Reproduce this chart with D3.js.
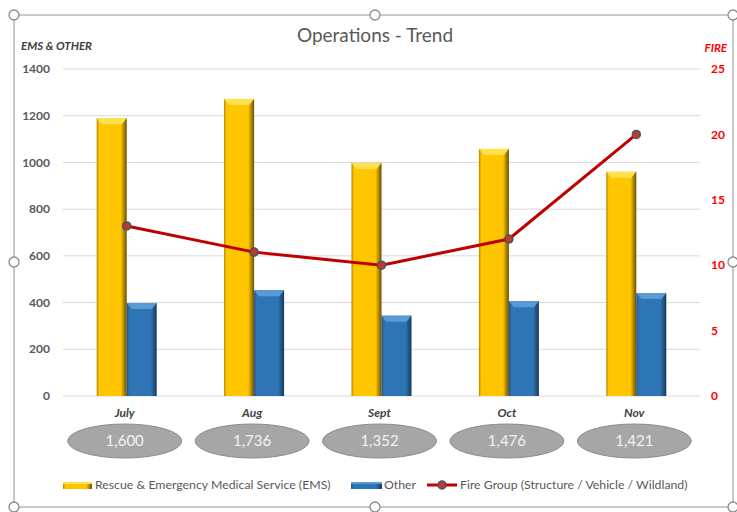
<!DOCTYPE html>
<html>
<head>
<meta charset="utf-8">
<script src="https://cdn.jsdelivr.net/npm/d3@7"></script>
<style>
  body { margin: 0; background: #fff; }
  text { font-family: Lato, "Open Sans", sans-serif; }
</style>
</head>
<body>
<div id="chart"></div>
<script>
// chart data
var months = ["July", "Aug", "Sept", "Oct", "Nov"];
var emsCalls = [1189, 1272, 998, 1058, 960];
var otherCalls = [398, 453, 344, 406, 441];
var fireCalls = [13, 11, 10, 12, 20];
var totals = [1600, 1736, 1352, 1476, 1421];
var leftTicks = [0, 200, 400, 600, 800, 1000, 1200, 1400];
var rightTicks = [0, 5, 10, 15, 20, 25];

var width = 737, height = 512;
var plotLeft = 63, plotRight = 700, plotTop = 69, plotBottom = 396;

var svg = d3.select("#chart").append("svg")
  .attr("width", width)
  .attr("height", height);

var defs = svg.append("defs");

function barGradient(id, dark, mid, light) {
  var g = defs.append("linearGradient").attr("id", id)
    .attr("x1", "0%").attr("x2", "100%").attr("y1", "0%").attr("y2", "0%");
  g.append("stop").attr("offset", "0%").attr("stop-color", dark);
  g.append("stop").attr("offset", "8%").attr("stop-color", mid);
  g.append("stop").attr("offset", "80%").attr("stop-color", mid);
  g.append("stop").attr("offset", "100%").attr("stop-color", light);
}
barGradient("gEms", "#b08400", "#ffc600", "#6b5000");
barGradient("gOther", "#1f4e79", "#2e75b6", "#16395a");

// selection frame
svg.append("rect")
  .attr("x", 14).attr("y", 15).attr("width", 719).attr("height", 492)
  .attr("fill", "none").attr("stroke", "#a6a6a6").attr("stroke-width", 1.2);

var x = d3.scaleBand().domain(months).range([plotLeft, plotRight]);
var xs = d3.scaleBand().domain(["ems", "other"]).range([-30, 30]);
var y = d3.scaleLinear().domain([0, 1400]).range([plotBottom, plotTop]);
var y2 = d3.scaleLinear().domain([0, 25]).range([plotBottom, plotTop]);

function cx(m) { return x(m) + x.bandwidth() / 2; }

// gridlines
svg.append("g").selectAll("line")
  .data(leftTicks).enter().append("line")
  .attr("x1", plotLeft).attr("x2", plotRight)
  .attr("y1", function(d) { return y(d); })
  .attr("y2", function(d) { return y(d); })
  .attr("stroke", "#d9d9d9").attr("stroke-width", 1);

// left axis labels
svg.append("g").selectAll("text")
  .data(leftTicks).enter().append("text")
  .attr("x", 50).attr("y", function(d) { return y(d); })
  .attr("dy", "0.35em").attr("text-anchor", "end")
  .attr("font-size", 12).attr("font-weight", "bold").attr("fill", "#595959")
  .text(function(d) { return d; });

// right axis labels
svg.append("g").selectAll("text")
  .data(rightTicks).enter().append("text")
  .attr("x", 711).attr("y", function(d) { return y2(d); })
  .attr("dy", "0.35em").attr("text-anchor", "start")
  .attr("font-size", 12).attr("font-weight", "bold").attr("fill", "#ff0000")
  .text(function(d) { return d; });

// titles
svg.append("text").attr("x", 375).attr("y", 42).attr("text-anchor", "middle")
  .attr("font-size", 19).attr("fill", "#595959").text("Operations - Trend");
svg.append("text").attr("x", 21).attr("y", 50)
  .attr("font-size", 11.5).attr("font-weight", "bold").attr("font-style", "italic")
  .attr("fill", "#404040").text("EMS & OTHER");
svg.append("text").attr("x", 727).attr("y", 52).attr("text-anchor", "end")
  .attr("font-size", 11.5).attr("font-weight", "bold").attr("font-style", "italic")
  .attr("fill", "#ff0000").text("FIRE");

// bars with a bevelled top
function drawBars(cls, values, key, grad, topColor) {
  var g = svg.append("g").attr("class", cls);
  var bw = xs.bandwidth();
  g.selectAll("rect")
    .data(values).enter().append("rect")
    .attr("x", function(d, i) { return cx(months[i]) + xs(key); })
    .attr("y", function(d) { return y(d); })
    .attr("width", bw)
    .attr("height", function(d) { return plotBottom - y(d); })
    .attr("fill", "url(#" + grad + ")");
  g.selectAll("path")
    .data(values).enter().append("path")
    .attr("d", function(d, i) {
      var x0 = cx(months[i]) + xs(key), y0 = y(d);
      return "M" + x0 + "," + y0 + "L" + (x0 + bw) + "," + y0 +
        "L" + (x0 + bw - 5) + "," + (y0 + 6) + "L" + (x0 + 5) + "," + (y0 + 6) + "Z";
    })
    .attr("fill", topColor);
}
drawBars("ems", emsCalls, "ems", "gEms", "#ffe14d");
drawBars("other", otherCalls, "other", "gOther", "#5b9bd5");

// fire line
var line = d3.line()
  .x(function(d, i) { return cx(months[i]); })
  .y(function(d) { return y2(d); });

svg.append("path").datum(fireCalls)
  .attr("d", line).attr("fill", "none")
  .attr("stroke", "#c00000").attr("stroke-width", 3);

svg.append("g").selectAll("circle")
  .data(fireCalls).enter().append("circle")
  .attr("cx", function(d, i) { return cx(months[i]); })
  .attr("cy", function(d) { return y2(d); })
  .attr("r", 4)
  .attr("fill", "#c0392b").attr("stroke", "#44546a").attr("stroke-width", 1.5);

// category labels
svg.append("g").selectAll("text")
  .data(months).enter().append("text")
  .attr("x", function(d) { return cx(d) - 2; }).attr("y", 413)
  .attr("dy", "0.35em").attr("text-anchor", "middle")
  .attr("font-size", 12).attr("font-weight", "bold").attr("font-style", "italic")
  .attr("fill", "#404040").text(function(d) { return d; });

// total ovals
var ovals = svg.append("g").selectAll("g")
  .data(totals).enter().append("g")
  .attr("transform", function(d, i) { return "translate(" + (cx(months[i]) - 2) + ",441)"; });
ovals.append("ellipse").attr("rx", 57).attr("ry", 17)
  .attr("fill", "#a6a6a6").attr("stroke", "#8c8c8c").attr("stroke-width", 1);
ovals.append("text").attr("dy", "0.35em").attr("text-anchor", "middle")
  .attr("font-size", 15).attr("fill", "#f2f2f2")
  .text(function(d) { return d3.format(",")(d); });

// legend
var lg = svg.append("g").attr("font-size", 12.3).attr("fill", "#595959");
lg.append("rect").attr("x", 63).attr("y", 482).attr("width", 29).attr("height", 7).attr("fill", "url(#gEms)");
lg.append("rect").attr("x", 63).attr("y", 482).attr("width", 29).attr("height", 2).attr("fill", "#ffe14d");
lg.append("text").attr("x", 95).attr("y", 485).attr("dy", "0.35em").text("Rescue & Emergency Medical Service (EMS)");
lg.append("rect").attr("x", 351).attr("y", 482).attr("width", 31).attr("height", 7).attr("fill", "url(#gOther)");
lg.append("rect").attr("x", 351).attr("y", 482).attr("width", 31).attr("height", 2).attr("fill", "#5b9bd5");
lg.append("text").attr("x", 384).attr("y", 485).attr("dy", "0.35em").text("Other");
lg.append("line").attr("x1", 427).attr("x2", 457).attr("y1", 485).attr("y2", 485)
  .attr("stroke", "#c00000").attr("stroke-width", 3);
lg.append("circle").attr("cx", 442).attr("cy", 485).attr("r", 4)
  .attr("fill", "#c0392b").attr("stroke", "#44546a").attr("stroke-width", 1.5);
lg.append("text").attr("x", 460).attr("y", 485).attr("dy", "0.35em").text("Fire Group (Structure / Vehicle / Wildland)");

// resize handles
var handles = [[14, 15], [375, 15], [733, 15], [14, 262], [733, 262], [14, 507], [375, 507], [733, 507]];
svg.append("g").selectAll("circle")
  .data(handles).enter().append("circle")
  .attr("cx", function(d) { return d[0]; }).attr("cy", function(d) { return d[1]; })
  .attr("r", 5).attr("fill", "#fff").attr("stroke", "#8c8c8c").attr("stroke-width", 1.3);
</script>
</body>
</html>
